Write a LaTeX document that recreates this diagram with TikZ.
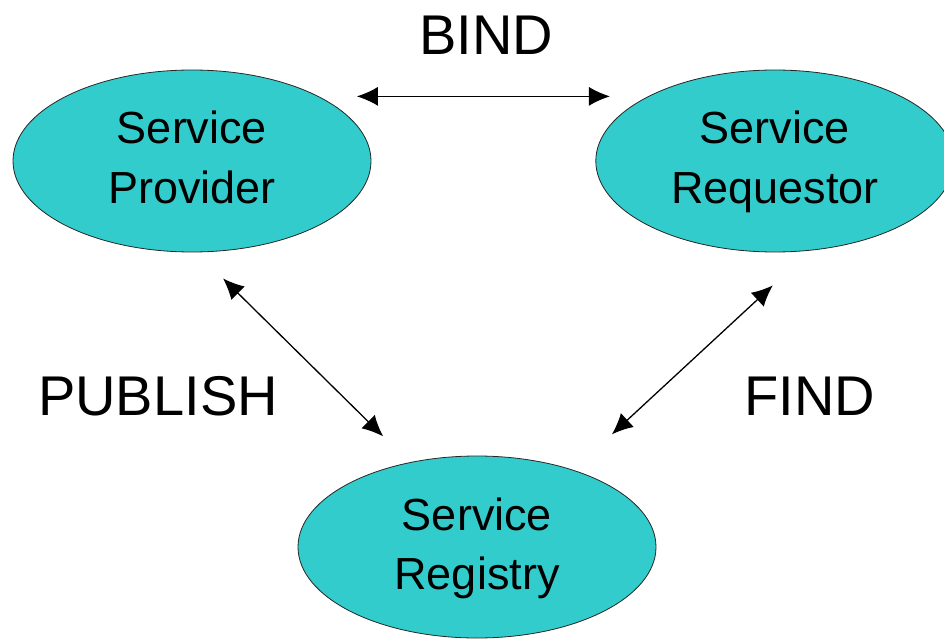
\documentclass[tikz,border=0pt]{standalone}
\usepackage{fontspec}
\setmainfont{Liberation Sans}
\usetikzlibrary{arrows.meta,positioning,shapes.geometric,calc}
\definecolor{serviceteal}{RGB}{51,204,204}
\def \nodeGap {224pt}
\def \tipGap {38pt}
\tikzset{
	serviceblock/.style= {draw=black!85, line width=0.8pt, ellipse, fill=serviceteal, align=center, minimum width=358pt, minimum height=182pt, inner sep=0pt, text height=84pt, text depth=0pt, font=\fontsize{45}{59}\selectfont},
	opblock/.style= {draw=none, anchor=base, inner sep=0pt, font=\fontsize{56}{60}\selectfont},
	link/.style= {{Latex[length=21pt,width=19pt]}-{Latex[length=21pt,width=19pt]}, line width=1.3pt}
}
\begin{document}
\begin{tikzpicture}[x=1pt,y=1pt]
	\useasboundingbox (0,0) rectangle (944,-639);

%%%%%%%%%%%%%%%%%%%%% Nodes %%%%%%%%%%%%%%%%%%%%%
	\node [serviceblock] (prov) at (192,-161) {Service\\Provider};
	\node [serviceblock, right =\nodeGap of prov] (req) {Service\\Requestor};
	\node [serviceblock] (reg) at (477,-547) {Service\\Registry};

	\node [opblock] (bind) at (486,-55) {BIND};
	\node [opblock] (publish) at (158,-415) {PUBLISH};
	\node [opblock] (find) at (810,-415) {FIND};

%%%%%%%%%%%%%%%%%%%%% Links %%%%%%%%%%%%%%%%%%%%%
	\draw[link, shorten <=\tipGap, shorten >=\tipGap] (prov.north east) -- (req.north west);
	\draw[link] ([shift={(31,-26)}]prov.south) -- ([shift={(33,46)}]reg.north west);
	\draw[link] ([shift={(-2,-33)}]req.south) -- ([shift={(8,48)}]reg.north east);

\end{tikzpicture}
\end{document}
